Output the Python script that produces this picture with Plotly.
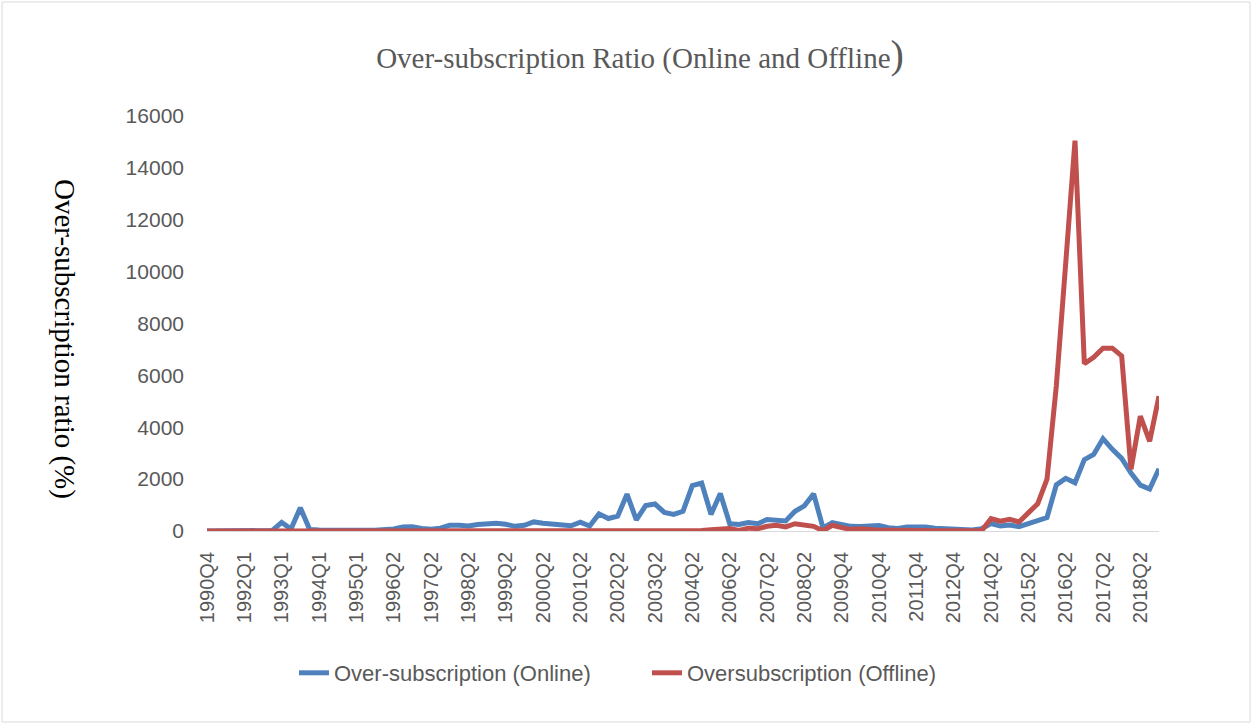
import plotly.graph_objects as go

quarters = [
    "1990Q4", "1991Q1", "1991Q2", "1991Q3", "1992Q1", "1992Q2", "1992Q3", "1992Q4",
    "1993Q1", "1993Q2", "1993Q3", "1993Q4", "1994Q1", "1994Q2", "1994Q3", "1994Q4",
    "1995Q1", "1995Q2", "1995Q3", "1995Q4", "1996Q2", "1996Q3", "1996Q4", "1997Q1",
    "1997Q2", "1997Q3", "1997Q4", "1998Q1", "1998Q2", "1998Q3", "1998Q4", "1999Q1",
    "1999Q2", "1999Q3", "1999Q4", "2000Q1", "2000Q2", "2000Q3", "2000Q4", "2001Q1",
    "2001Q2", "2001Q3", "2001Q4", "2002Q1", "2002Q2", "2002Q3", "2002Q4", "2003Q1",
    "2003Q2", "2003Q3", "2003Q4", "2004Q1", "2004Q2", "2004Q3", "2004Q4", "2005Q2",
    "2006Q2", "2006Q3", "2006Q4", "2007Q1", "2007Q2", "2007Q3", "2007Q4", "2008Q1",
    "2008Q2", "2008Q3", "2009Q2", "2009Q3", "2009Q4", "2010Q1", "2010Q2", "2010Q3",
    "2010Q4", "2011Q1", "2011Q2", "2011Q3", "2011Q4", "2012Q1", "2012Q2", "2012Q3",
    "2012Q4", "2013Q1", "2013Q4", "2014Q1", "2014Q2", "2014Q3", "2014Q4", "2015Q1",
    "2015Q2", "2015Q3", "2015Q4", "2016Q1", "2016Q2", "2016Q3", "2016Q4", "2017Q1",
    "2017Q2", "2017Q3", "2017Q4", "2018Q1", "2018Q2", "2018Q3", "2018Q4",
]

online = [
    0, 0, 0, 0, 0, 0, 0, 20,
    330, 80, 900, 60, 40, 30, 30, 20,
    30, 30, 30, 40, 80, 150, 160, 100,
    70, 110, 220, 220, 190, 250, 280, 300,
    260, 180, 220, 350, 300, 270, 210, 200,
    340, 190, 660, 480, 570, 1420, 430, 980,
    1040, 720, 640, 760, 1750, 1850, 640, 1450,
    280, 250, 330, 280, 440, 420, 390, 760,
    970, 1430, 120, 320, 240, 180, 170, 180,
    210, 130, 100, 150, 160, 150, 110, 90,
    70, 50, 40, 90, 290, 190, 230, 170,
    290, 410, 520, 1780, 2030, 1860, 2750, 2950,
    3560, 3150, 2800, 2230, 1770, 1620, 2400,
]

offline = [
    0, 0, 0, 0, 0, 0, 0, 0,
    0, 0, 0, 0, 0, 0, 0, 0,
    0, 0, 0, 0, 0, 0, 0, 0,
    0, 0, 0, 0, 0, 0, 0, 0,
    0, 0, 0, 0, 0, 0, 0, 0,
    0, 0, 0, 0, 0, 0, 0, 0,
    0, 0, 0, 0, 0, 20, 50, 90,
    100, 20, 110, 90, 180, 220, 160, 280,
    240, 180, 10, 220, 130, 60, 90, 40,
    30, 30, 20, 20, 20, 20, 20, 10,
    10, 0, 0, 10, 480, 380, 450, 350,
    700, 1050, 2000, 5600, 10300, 15050, 6450, 6700,
    7050, 7050, 6750, 2380, 4430, 3460, 5200,
]

W, H = 1253, 725
L, R, T, B = 207, 94, 116, 194
pw, ph = W - L - R, H - T - B

fig = go.Figure()
fig.add_trace(go.Scatter(x=quarters, y=online, mode="lines", name="Over-subscription (Online)",
                         line=dict(color="#4F81BD", width=5)))
fig.add_trace(go.Scatter(x=quarters, y=offline, mode="lines", name="Oversubscription (Offline)",
                         line=dict(color="#C0504D", width=5)))

fig.update_layout(
    width=W, height=H,
    margin=dict(l=L, r=R, t=T, b=B),
    paper_bgcolor="white", plot_bgcolor="white",
    font=dict(family="Liberation Sans", size=20, color="#595959"),
    title=dict(text="Over-subscription Ratio (Online and Offline<span style='font-size:40px'>)</span>",
               font=dict(family="Liberation Serif", size=29, color="#595959"),
               x=640 / W, xref="container", xanchor="center",
               y=1 - 58 / H, yref="container", yanchor="middle"),
    showlegend=True,
    legend=dict(orientation="h", x=647 / W, xref="container", xanchor="center",
                y=1 - 673 / H, yref="container", yanchor="middle",
                entrywidth=308, font=dict(size=22, color="#595959")),
)

fig.update_xaxes(type="category", range=[0, len(quarters) - 1], tickmode="linear", tick0=0, dtick=4,
                 tickangle=-90, showgrid=False, showline=True, linecolor="#d9d9d9", linewidth=1,
                 ticks="", ticklabelstandoff=12, tickfont=dict(size=20, color="#595959"))
fig.update_yaxes(range=[0, 16000], dtick=2000, tickformat="d", showgrid=False, zeroline=False,
                 showline=False, ticklabelstandoff=22, tickfont=dict(size=21, color="#595959"))

# y title reads top to bottom, as in the original
fig.add_annotation(text="Over-subscription ratio (%)", textangle=90, showarrow=False,
                   xref="paper", yref="paper", x=(65 - L) / pw, y=(H - B - 339) / ph,
                   xanchor="center", yanchor="middle",
                   font=dict(family="Liberation Serif", size=29, color="black"))

# outer chart border
fig.add_shape(type="rect", xref="paper", yref="paper",
              x0=(2 - L) / pw, x1=(W - 3 - L) / pw, y0=(H - B - 722) / ph, y1=(H - B - 2) / ph,
              line=dict(color="#d9d9d9", width=1), fillcolor="rgba(0,0,0,0)", layer="below")

fig.write_html("out.html", config={"displayModeBar": False},
               post_script="document.body.style.margin='0';")
